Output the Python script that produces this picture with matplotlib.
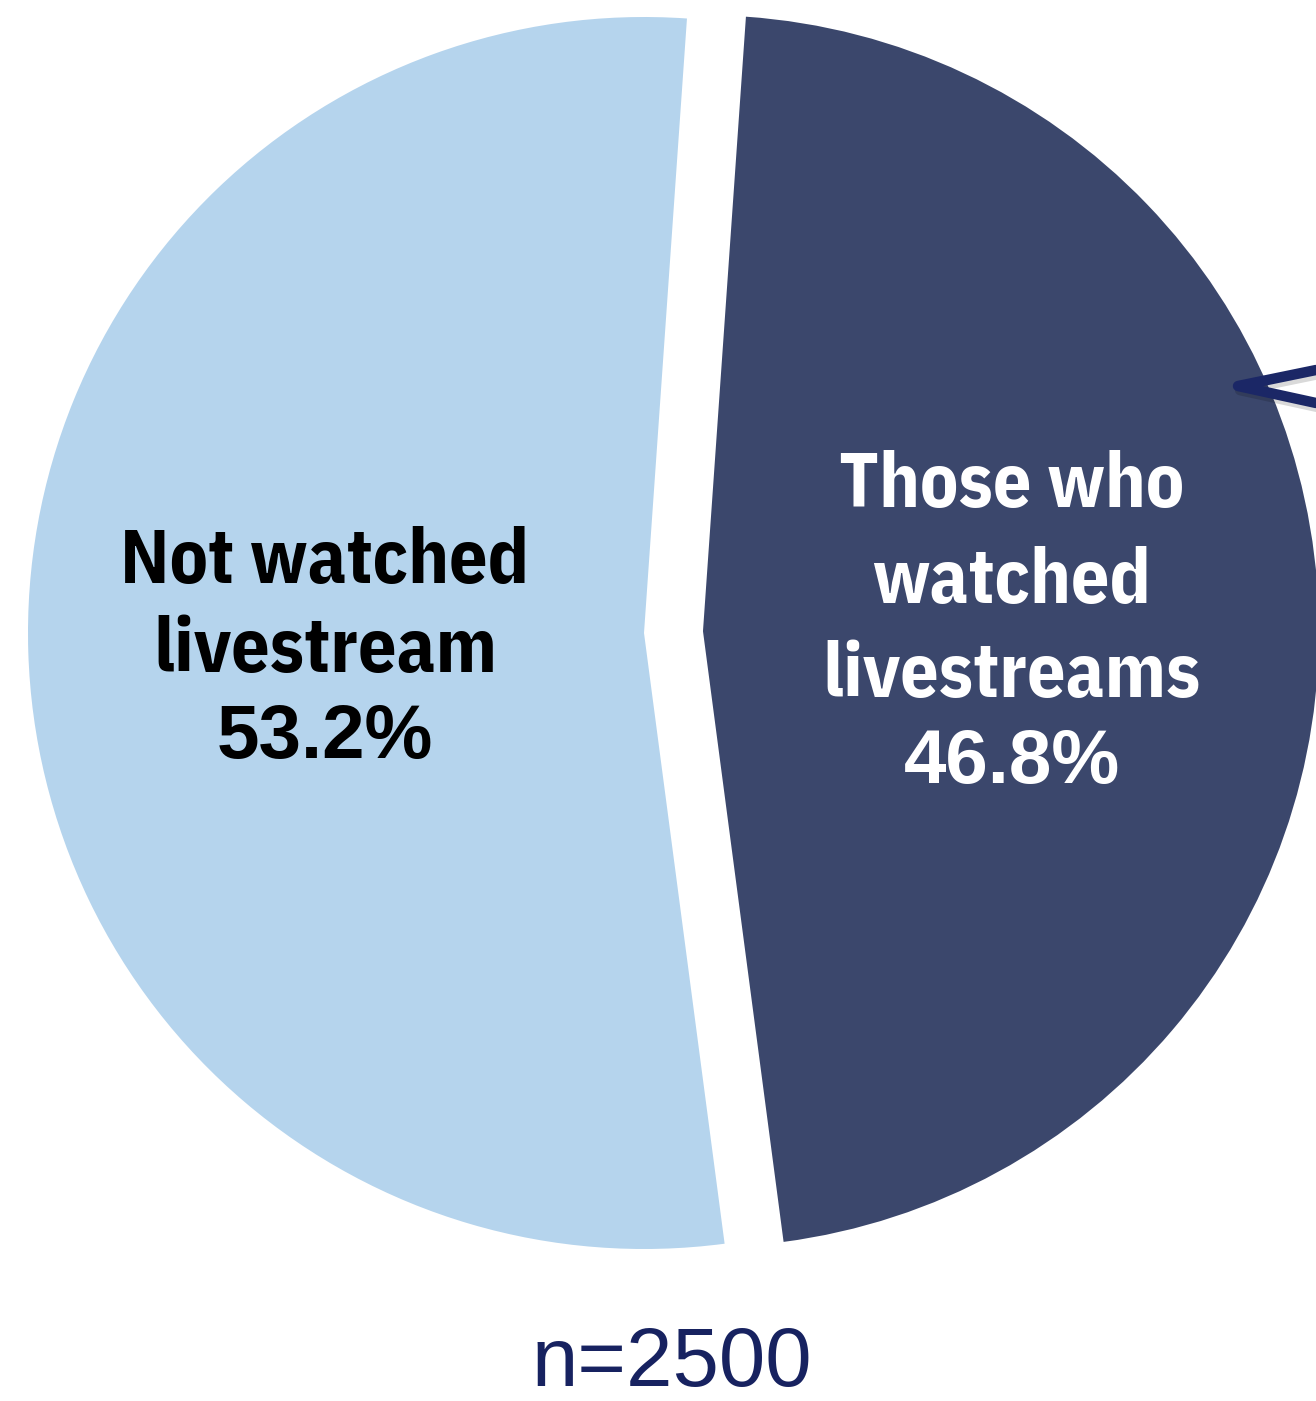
import os
import matplotlib.pyplot as plt
import matplotlib.patheffects as pe
from matplotlib import font_manager
from matplotlib.font_manager import FontProperties
from matplotlib.textpath import TextPath

WIDTH, HEIGHT, DPI = 1316, 1401, 100

labels = ['Not watched\nlivestream', 'Those who\nwatched\nlivestreams']
shares = [53.2, 46.8]
colors = ['#b5d4ed', '#3b476c']
explode = [0, 59]  # pie() offsets in data units, here pixels
sample_note = 'n=2500'

CAP_PX = 53        # cap height of the label words, pixels
WORD_RATIO = 7.55  # width of "Not watched" over its cap height
SANS = ('Sans', 'Roboto', 'Lato', 'Inter', 'Fira', 'Arimo', 'Ubuntu')


def is_plain_bold(f):
    base = os.path.basename(f.fname).lower()
    if 'bold' not in base:
        return False
    return not any(s in base for s in ('semibold', 'extrabold', 'demibold', 'italic', 'oblique'))


# choose the bold sans face whose proportions suit the labels best
best = None
for f in font_manager.fontManager.ttflist:
    if f.style != 'normal' or not is_plain_bold(f):
        continue
    if not any(s in f.name for s in SANS):
        continue
    if any(s in f.name for s in ('Serif', 'Mono', 'CJK', 'Math', 'Display')):
        continue
    try:
        prop = FontProperties(fname=f.fname, size=100)
        cap = TextPath((0, 0), 'N', prop=prop).get_extents().height
        width = TextPath((0, 0), 'Not watched', prop=prop).get_extents().width
    except Exception:
        continue
    if cap <= 0:
        continue
    score = abs(width / cap - WORD_RATIO)
    if best is None or score < best[0]:
        best = (score, f.fname, cap, f.name)

if best:
    narrow_file, cap_units = best[1], best[2]
    print('word font:', best[3], narrow_file)
else:
    narrow_file, cap_units = None, 72.9
narrow_size = CAP_PX / (DPI / 72) * 100 / cap_units


def word_font(size):
    if narrow_file:
        return FontProperties(fname=narrow_file, size=size)
    return FontProperties(family='Liberation Sans', weight='bold', size=size)


fig = plt.figure(figsize=(WIDTH / DPI, HEIGHT / DPI), dpi=DPI)
fig.patch.set_facecolor('white')
ax = fig.add_axes([0, 0, 1, 1])

cx, cy, r = 644, HEIGHT - 633, 616
wedges, _ = ax.pie(shares, colors=colors, explode=explode, startangle=86,
                   center=(cx, cy), radius=r, wedgeprops=dict(linewidth=0))
ax.set_xlim(0, WIDTH)
ax.set_ylim(0, HEIGHT)
ax.set_aspect('equal')
ax.axis('off')


# label blocks: words in narrow bold, percentage underneath
def label(x, baselines, text, pct, color):
    for y, line in zip(baselines, text.split('\n')):
        ax.text(x, HEIGHT - y, line, fontproperties=word_font(narrow_size),
                color=color, ha='center', va='baseline')
    ax.text(x, HEIGHT - baselines[-1], f'{pct:.1f}%', family='Liberation Sans',
            weight='bold', fontsize=55, color=color, ha='center', va='baseline')


label(325, [583, 672, 758], labels[0], shares[0], 'black')
label(1012, [507, 603, 697, 783], labels[1], shares[1], 'white')

# pointer into the dark slice
ax.plot([1316, 1238, 1316], [HEIGHT - 370, HEIGHT - 386, HEIGHT - 403],
        color='#1b2766', linewidth=7.5, solid_capstyle='round', solid_joinstyle='round',
        path_effects=[pe.SimpleLineShadow(offset=(1.5, -3), alpha=0.15), pe.Normal()])

ax.text(672, HEIGHT - 1386, sample_note, family='Liberation Sans', fontsize=60,
        color='#172260', ha='center', va='baseline')

fig.savefig('out.png', dpi=DPI, facecolor='white')
